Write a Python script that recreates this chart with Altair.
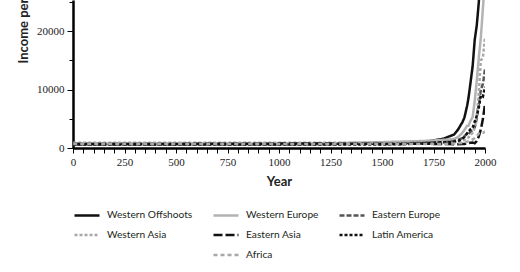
import altair as alt
import pandas as pd

years = [1, 500, 1000, 1250, 1500, 1600, 1700, 1750, 1800, 1820, 1850, 1870, 1890,
         1900, 1913, 1920, 1929, 1940, 1950, 1960, 1970, 1980, 1990, 2000]

western_offshoots = [700, 700, 700, 700, 750, 800, 1000, 1300, 1600, 1900, 2300, 3200, 4400,
                     5200, 7200, 8600, 11000, 14000, 18500, 21000, 25000, 31000, 38000, 45000]
western_europe = [800, 700, 650, 800, 1000, 1100, 1200, 1300, 1400, 1450, 1550, 1900, 2600,
                  3100, 3800, 3800, 4600, 5300, 8000, 11500, 15500, 19000, 24000, 29000]
eastern_europe = [600, 600, 600, 650, 750, 800, 900, 950, 1000, 1050, 1200, 1400, 1700,
                  2000, 2500, 2300, 2800, 3000, 3500, 5000, 7500, 10000, 11000, 13500]
western_asia = [900, 900, 900, 900, 900, 900, 900, 900, 900, 950, 1000, 1100, 1300,
                1400, 1700, 1800, 2200, 2600, 3500, 5500, 9500, 15000, 15500, 19000]
eastern_asia = [700, 700, 750, 750, 700, 700, 750, 700, 700, 700, 650, 650, 680,
                700, 800, 850, 900, 950, 800, 1200, 2000, 3200, 5000, 7500]
latin_america = [600, 600, 600, 600, 600, 650, 800, 900, 1000, 1000, 1100, 1200, 1600,
                 1900, 2500, 2800, 3200, 3500, 4500, 5500, 7000, 9000, 8800, 10500]
africa = [700, 700, 700, 700, 700, 700, 700, 700, 700, 700, 750, 800, 850,
          900, 1100, 1150, 1300, 1450, 1700, 2000, 2500, 2700, 2600, 2800]

regions = ["Western Offshoots", "Western Europe", "Eastern Europe",
           "Western Asia", "Eastern Asia", "Latin America", " ", "Africa"]
colors = ["#111111", "#b3b3b3", "#555555", "#a8a8a8", "#111111", "#111111", "transparent", "#a8a8a8"]
dashes = [[1, 0], [1, 0], [5, 2], [3, 2], [9, 3], [3, 2], [1, 0], [4, 3]]
widths = [2.5, 2.5, 2, 1.2, 2, 1.6, 1, 1.5]

series = {
    "Western Offshoots": western_offshoots,
    "Western Europe": western_europe,
    "Eastern Europe": eastern_europe,
    "Western Asia": western_asia,
    "Eastern Asia": eastern_asia,
    "Latin America": latin_america,
    "Africa": africa,
}

rows = []
for name, vals in series.items():
    for y, v in zip(years, vals):
        rows.append({"region": name, "year": y, "income": v})
df = pd.DataFrame(rows)

legend = alt.Legend(
    title=None, orient="none", legendX=0, legendY=201, columns=3, direction="horizontal",
    symbolType="stroke", symbolSize=625, labelFont="Lato", labelFontSize=10.2,
    labelColor="#231f20", labelOffset=6, columnPadding=15, rowPadding=-0.5,
    padding=0, symbolStrokeWidth=2, values=regions,
)

serif = "Liberation Serif, Times New Roman, serif"

chart = alt.Chart(df).mark_line(clip=True).encode(
    x=alt.X("year:Q", scale=alt.Scale(domain=[0, 2000], nice=False),
            axis=alt.Axis(title="Year", values=list(range(0, 2001, 50)),
                          labelExpr="datum.value % 250 === 0 ? datum.label : ''",
                          format="d", labelOverlap=False, labelFlush=False,
                          labelFont=serif, labelFontSize=11,
                          labelColor="#222222", labelPadding=3,
                          tickSize=5, tickColor="#000000", tickWidth=1,
                          domainColor="#000000", domainWidth=2.5,
                          titleFont="Lato", titleFontSize=13, titleFontWeight="bold",
                          titleColor="#222222", titlePadding=8, grid=False)),
    y=alt.Y("income:Q", scale=alt.Scale(domain=[0, 25350], nice=False),
            axis=alt.Axis(title="Income per capita", values=[0, 5000, 10000, 15000, 20000, 25000],
                          labelExpr="datum.value % 10000 === 0 ? datum.label : ''",
                          format="d", labelOverlap=False, labelFlush=False,
                          labelFont=serif, labelFontSize=11,
                          labelColor="#222222", labelPadding=3,
                          tickSize={"condition": {"test": "datum.value % 10000 === 0", "value": 6}, "value": 4},
                          tickColor="#000000", tickWidth=1,
                          domainColor="#000000", domainWidth=2.5,
                          titleFont="Lato", titleFontSize=13, titleFontWeight="bold",
                          titleColor="#222222", titleAngle=-90, titleAlign="left",
                          titleBaseline="alphabetic", titleX=-46, titleY=63, grid=False)),
    color=alt.Color("region:N", scale=alt.Scale(domain=regions, range=colors), legend=legend),
    strokeDash=alt.StrokeDash("region:N", scale=alt.Scale(domain=regions, range=dashes), legend=legend),
    strokeWidth=alt.StrokeWidth("region:N", scale=alt.Scale(domain=regions, range=widths), legend=legend),
    order=alt.Order("year:Q"),
).properties(
    width=412, height=148,
    background="white",
    autosize=alt.AutoSizeParams(type="none"),
    padding={"left": 73, "top": 0, "right": 35, "bottom": 124},
).configure_view(stroke=None)

chart.save("out.html", embed_options={"renderer": "svg", "actions": False})
